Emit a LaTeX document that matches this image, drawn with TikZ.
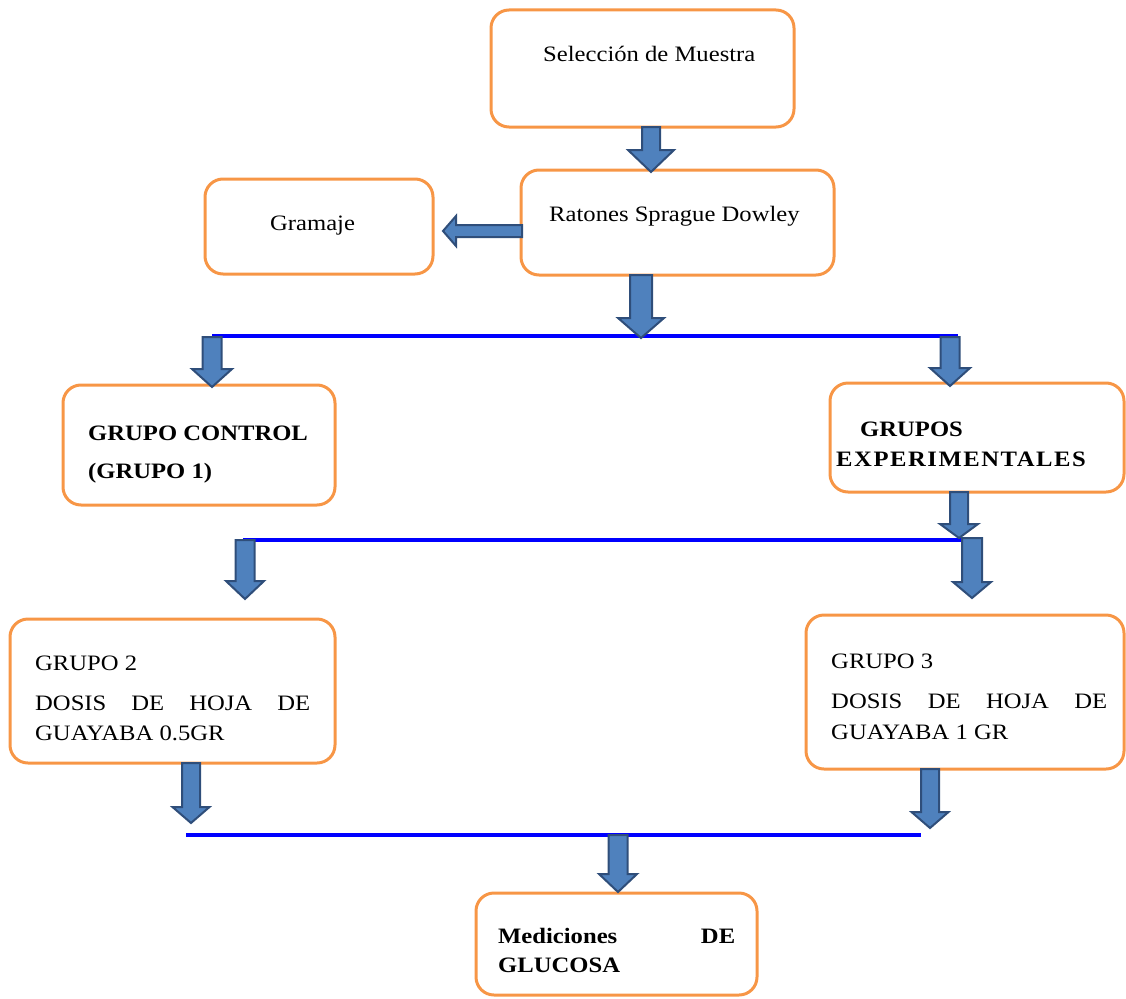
\documentclass[tikz,border=0pt]{standalone}
\usepackage{fontspec}
\setmainfont{Liberation Serif}[FakeStretch=1.12]
\usetikzlibrary{calc}
\definecolor{boxorange}{HTML}{F79646}
\definecolor{arrfill}{HTML}{4F81BD}
\definecolor{arrdraw}{HTML}{2F4E7A}
\tikzset{
  box/.style={draw=boxorange, line width=3pt, rounded corners=18pt, rectangle, inner sep=0pt},
  txt/.style={anchor=base west, inner sep=0pt, font=\fontsize{22}{26}\selectfont},
  btxt/.style={txt, font=\fontsize{22}{26}\selectfont\bfseries},
  bline/.style={draw=blue, line width=4pt},
  barrow/.style={fill=arrfill, draw=arrdraw, line width=2pt, line join=miter},
}
\newcommand\varrow[5]{\draw[barrow] let \p1=(#1), \p2=(#2) in
  (\x1-#3pt,\y1) -- (\x1+#3pt,\y1) -- (\x1+#3pt,\y2+#5pt) -- (\x1+#4pt,\y2+#5pt)
  -- (\x1,\y2) -- (\x1-#4pt,\y2+#5pt) -- (\x1-#3pt,\y2+#5pt) -- cycle;}
\newcommand\harrow[5]{\draw[barrow] let \p1=(#1), \p2=(#2) in
  (\x1,\y1-#3pt) -- (\x2+#5pt,\y1-#3pt) -- (\x2+#5pt,\y1-#4pt) -- (\x2,\y1)
  -- (\x2+#5pt,\y1+#4pt) -- (\x2+#5pt,\y1+#3pt) -- (\x1,\y1+#3pt) -- cycle;}
\begin{document}
\begin{tikzpicture}[x=1pt, y=-1pt]
\useasboundingbox (0,0) rectangle (1126,998);

% boxes
\node[box, minimum width=303pt, minimum height=117pt] (sel) at (642.5,68.5) {};
\node[box, minimum width=313pt, minimum height=105pt] (rat) at (677.5,222.5) {};
\node[box, minimum width=228pt, minimum height=95pt] (gra) at (319,226.5) {};
\node[box, minimum width=272pt, minimum height=120pt] (gc) at (199,445) {};
\node[box, minimum width=294pt, minimum height=109pt] (ge) at (977,437.5) {};
\node[box, minimum width=325pt, minimum height=144pt] (g2) at (172.5,691) {};
\node[box, minimum width=318pt, minimum height=154pt] (g3) at (965,692) {};
\node[box, minimum width=281pt, minimum height=102pt] (med) at (616.5,944) {};

% texts
\node[txt] (tsel) at (543,62) {Selección de Muestra};
\node[txt] (trat) at (549,221) {Ratones Sprague Dowley};
\node[txt] (tgra) at (270,230) {Gramaje};
\node[btxt] (tgc1) at (88,440) {GRUPO CONTROL};
\node[btxt] (tgc2) at (88,478) {(GRUPO 1)};
\node[btxt] (tge1) at (860,436) {GRUPOS};
\node[btxt] (tge2) at (836,466) {\addfontfeature{LetterSpace=7}EXPERIMENTALES};
\node[txt] (tg21) at (35,670) {GRUPO 2};
\node[txt] (tg22) at (35,710) {\makebox[275pt][s]{DOSIS DE HOJA DE}};
\node[txt] (tg23) at (35,740) {GUAYABA 0.5GR};
\node[txt] (tg31) at (831,668) {GRUPO 3};
\node[txt] (tg32) at (831,708) {\makebox[276pt][s]{DOSIS DE HOJA DE}};
\node[txt] (tg33) at (831,739) {GUAYABA 1 GR};
\node[btxt] (tm1) at (498,943) {\makebox[237pt][s]{Mediciones DE}};
\node[btxt] (tm2) at (498,972) {GLUCOSA};

% blue lines
\coordinate (l1a) at (212,336); \coordinate (l1b) at (958,336);
\coordinate (l2a) at (243,540); \coordinate (l2b) at (966,540);
\coordinate (l3a) at (186,835); \coordinate (l3b) at (921,835);
\draw[bline] (l1a) -- (l1b);
\draw[bline] (l2a) -- (l2b);
\draw[bline] (l3a) -- (l3b);

% arrow coordinates
\coordinate (a1s) at (651,127); \coordinate (a1e) at (651,172);
\coordinate (a2s) at (522,231); \coordinate (a2e) at (443,231);
\coordinate (a3s) at (641,275); \coordinate (a3e) at (641,338);
\coordinate (a4s) at (212,337); \coordinate (a4e) at (212,387);
\coordinate (a5s) at (950,337); \coordinate (a5e) at (950,386);
\coordinate (a6s) at (959,492); \coordinate (a6e) at (959,538);
\coordinate (a7s) at (972,538); \coordinate (a7e) at (972,598);
\coordinate (a8s) at (245,540); \coordinate (a8e) at (245,599);
\coordinate (a9s) at (191,763); \coordinate (a9e) at (191,823);
\coordinate (a10s) at (930,769); \coordinate (a10e) at (930,828);
\coordinate (a11s) at (618,835); \coordinate (a11e) at (618,892);

\varrow{a1s}{a1e}{9}{23}{22}
\harrow{a2s}{a2e}{6}{15}{13}
\varrow{a3s}{a3e}{11}{23}{20}
\varrow{a4s}{a4e}{9.5}{20}{18}
\varrow{a5s}{a5e}{9.5}{20}{18}
\varrow{a6s}{a6e}{9}{19}{14}
\varrow{a7s}{a7e}{10}{19}{16}
\varrow{a8s}{a8e}{9.5}{19}{18}
\varrow{a9s}{a9e}{9}{18.5}{16}
\varrow{a10s}{a10e}{9}{18.5}{16}
\varrow{a11s}{a11e}{9.5}{19}{18}
\end{tikzpicture}
\end{document}
